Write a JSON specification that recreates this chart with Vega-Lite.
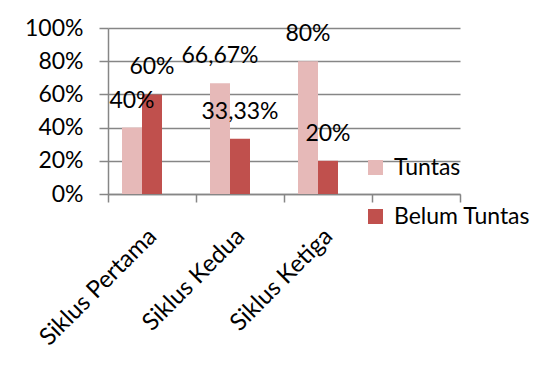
{
  "$schema": "https://vega.github.io/schema/vega-lite/v6.json",
  "width": 352,
  "height": 166,
  "autosize": {"type": "none"},
  "padding": {"left": 108, "top": 28, "right": 91, "bottom": 171},
  "background": "white",
  "config": {
    "view": {"stroke": null},
    "font": "Lato",
    "axis": {"labelFont": "Lato", "labelColor": "black", "domainColor": "#868686", "tickColor": "#868686", "gridColor": "#868686", "domainWidth": 1.5, "tickWidth": 1.5, "gridWidth": 1.5},
    "legend": {"labelFont": "Lato"}
  },
  "data": {
    "values": [
      {"siklus": "Siklus Pertama", "status": "Tuntas", "nilai": 0.40, "label": "40%"},
      {"siklus": "Siklus Pertama", "status": "Belum Tuntas", "nilai": 0.60, "label": "60%"},
      {"siklus": "Siklus Kedua", "status": "Tuntas", "nilai": 0.6667, "label": "66,67%"},
      {"siklus": "Siklus Kedua", "status": "Belum Tuntas", "nilai": 0.3333, "label": "33,33%"},
      {"siklus": "Siklus Ketiga", "status": "Tuntas", "nilai": 0.80, "label": "80%"},
      {"siklus": "Siklus Ketiga", "status": "Belum Tuntas", "nilai": 0.20, "label": "20%"}
    ]
  },
  "encoding": {
    "x": {
      "field": "siklus", "type": "nominal", "sort": null,
      "scale": {"domain": ["Siklus Pertama", "Siklus Kedua", "Siklus Ketiga", " "], "paddingInner": 0, "paddingOuter": 0},
      "axis": {"title": null, "labelAngle": -45, "labelFontSize": 24, "tickBand": "extent", "tickSize": 8, "labelPadding": 22, "labelOffset": -8, "grid": false}
    },
    "xOffset": {
      "field": "status", "type": "nominal",
      "scale": {"domain": ["Tuntas", "Belum Tuntas", "kosong"], "paddingInner": 0, "paddingOuter": 0.7}
    },
    "y": {
      "field": "nilai", "type": "quantitative",
      "scale": {"domain": [0, 1], "nice": false},
      "axis": {"title": null, "format": ".0%", "values": [0, 0.2, 0.4, 0.6, 0.8, 1], "labelFontSize": 23, "tickSize": 9, "labelPadding": 16, "grid": true, "domain": true}
    }
  },
  "layer": [
    {
      "mark": {"type": "bar"},
      "encoding": {
        "color": {
          "field": "status", "type": "nominal",
          "scale": {"domain": ["Tuntas", "Belum Tuntas"], "range": ["#E6B9B8", "#C0504D"]},
          "legend": {"title": null, "orient": "none", "legendX": 256, "legendY": 128, "symbolType": "square", "symbolSize": 225, "symbolStrokeWidth": 0, "labelFontSize": 23, "labelOffset": 7, "rowPadding": 25, "labelColor": "black"}
        }
      }
    },
    {
      "mark": {"type": "text", "fontSize": 23, "baseline": "alphabetic", "dy": -20, "color": "black"},
      "encoding": {"text": {"field": "label"}}
    }
  ]
}
